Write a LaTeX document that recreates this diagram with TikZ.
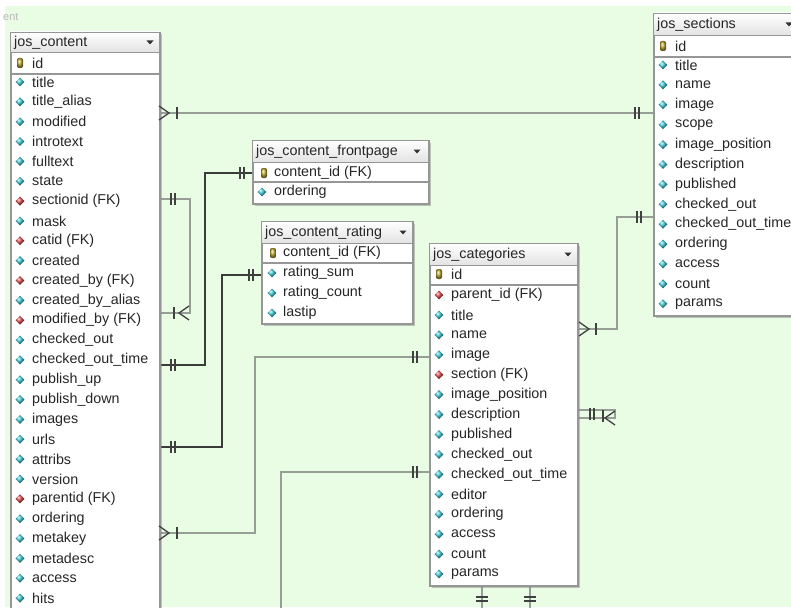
\documentclass[tikz,border=0pt]{standalone}
\usepackage{fontspec}
\setmainfont{Liberation Sans}
\usetikzlibrary{calc, shadows, shapes.geometric}
\definecolor{canvas}{RGB}{233,252,228}
\definecolor{relline}{RGB}{150,158,150}
\definecolor{reldark}{RGB}{58,60,58}
\definecolor{frame}{RGB}{150,150,150}
\definecolor{icocyan}{RGB}{60,196,210}
\definecolor{icored}{RGB}{215,70,70}
\definecolor{icokey}{RGB}{200,180,60}

\begin{document}
\begin{tikzpicture}[x=1pt, y=-1pt,
 tbl/.style={draw=frame, line width=2pt, fill=white, anchor=north west, inner sep=0pt,
   drop shadow={shadow xshift=1.5pt, shadow yshift=-1.5pt, opacity=.45}},
 thead/.style={draw=frame, line width=.8pt, top color=white, bottom color=gray!22},
 tname/.style={anchor=west, inner sep=0pt, font=\fontsize{14.3}{16}\selectfont, text=black!85},
 fld/.style={anchor=west, inner sep=0pt, font=\fontsize{14.3}{16}\selectfont, text=black!85},
 fd/.style={diamond, inner sep=0pt, minimum size=9pt, ball color=icocyan},
 fk/.style={diamond, inner sep=0pt, minimum size=9pt, ball color=icored},
 pk/.style={rectangle, rounded corners=2pt, inner sep=0pt, minimum width=6pt, minimum height=10pt, ball color=icokey},
 sepline/.style={draw=frame, line width=1.6pt},
 rel/.style={draw=relline, line width=1.4pt},
 relbold/.style={draw=reldark, line width=2.6pt},
 mk/.style={draw=black!75, line width=1.3pt},
 dbar/.pic={\draw[mk] (-2,-6) -- (-2,6) (2,-6) -- (2,6);},
 sbar/.pic={\draw[mk] (0,-6) -- (0,6);},
 crow/.pic={\draw[mk] (0,-7) -- (10,0) -- (0,7);},
 dropdown/.pic={\fill[black!80] (-3.5,-1.5) -- (3.5,-1.5) -- (0,2.5) -- cycle;}]
\clip (0,0) rectangle (791,607);
\fill[white] (0,0) rectangle (791,607);
\fill[canvas] (5,6) rectangle (791,607);
\node[anchor=west, inner sep=0pt, text=gray!55, font=\fontsize{11}{12}\selectfont] (pagetag) at (3,17) {ent};

% connectors
\coordinate (a1) at (159,113);
\coordinate (a2) at (653,113);
\draw[rel] (a1) -- (a2);
\coordinate (b1) at (159,199);
\coordinate (b2) at (159,313);
\draw[rel] (b1) -- ++(31,0) |- (b2);
\coordinate (c1) at (159,365);
\coordinate (c2) at (252,173);
\draw[relbold] (c1) -- ++(46,0) |- (c2);
\coordinate (d1) at (159,447);
\coordinate (d2) at (261,275);
\draw[relbold] (d1) -- ++(63,0) |- (d2);
\coordinate (e1) at (159,533);
\coordinate (e2) at (429,357);
\draw[rel] (e1) -- ++(96,0) |- (e2);
\coordinate (f1) at (429,472);
\coordinate (f2) at (281,615);
\draw[rel] (f1) -| (f2);
\coordinate (g1) at (577,329);
\coordinate (g2) at (653,217);
\draw[rel] (g1) -- ++(40,0) |- (g2);
\coordinate (h1) at (577,410);
\coordinate (h2) at (577,418);
\draw[rel] (h1) -- ++(38,0) |- (h2);
\coordinate (i1) at (482,585);
\coordinate (i2) at (482,615);
\draw[rel] (i1) -- (i2);
\coordinate (j1) at (530,585);
\coordinate (j2) at (530,615);
\draw[rel] (j1) -- (j2);

% jos_content
\node[tbl, minimum width=149pt, minimum height=608pt] (content) at (10,32) {};
\path[thead] (10,32) rectangle (159,52);
\node[tname] (content-name) at (14,43) {jos\_content};
\pic at (150,42) {dropdown};
\node[pk] (content-k) at (20,63) {};
\node[fld] (content-id) at (32,63) {id};
\draw[sepline] (10,74) -- (159,74);
\foreach \ic/\txt [count=\i from 0] in {fd/title, fd/title\_alias, fd/modified, fd/introtext,
  fd/fulltext, fd/state, fk/sectionid (FK), fd/mask, fk/catid (FK), fd/created,
  fk/created\_by (FK), fd/created\_by\_alias, fk/modified\_by (FK), fd/checked\_out,
  fd/checked\_out\_time, fd/publish\_up, fd/publish\_down, fd/images, fd/urls, fd/attribs,
  fd/version, fk/parentid (FK), fd/ordering, fd/metakey, fd/metadesc, fd/access, fd/hits}
 {\node[\ic] (content-i\i) at (20,82+19.85*\i) {};
  \node[fld] (content-f\i) at (32,82+19.85*\i) {\txt};}

% jos_sections
\node[tbl, minimum width=145pt, minimum height=302pt] (sections) at (653,13) {};
\path[thead] (653,13) rectangle (798,35);
\node[tname] (sections-name) at (657,25) {jos\_sections};
\pic at (789,24) {dropdown};
\node[pk] (sections-k) at (663,46) {};
\node[fld] (sections-id) at (675,46) {id};
\draw[sepline] (653,57) -- (798,57);
\foreach \ic/\txt [count=\i from 0] in {fd/title, fd/name, fd/image, fd/scope,
  fd/image\_position, fd/description, fd/published, fd/checked\_out,
  fd/checked\_out\_time, fd/ordering, fd/access, fd/count, fd/params}
 {\node[\ic] (sections-i\i) at (663,65+19.9*\i) {};
  \node[fld] (sections-f\i) at (675,65+19.9*\i) {\txt};}

% jos_content_frontpage
\node[tbl, minimum width=176pt, minimum height=63pt] (frontpage) at (252,140) {};
\path[thead] (252,140) rectangle (428,162);
\node[tname] (frontpage-name) at (256,152) {jos\_content\_frontpage};
\pic at (417,151) {dropdown};
\node[pk] (frontpage-k) at (264,173) {};
\node[fld] (frontpage-id) at (274,173) {content\_id (FK)};
\draw[sepline] (252,182) -- (428,182);
\node[fd] (frontpage-i0) at (262,192) {};
\node[fld] (frontpage-f0) at (274,192) {ordering};

% jos_content_rating
\node[tbl, minimum width=151pt, minimum height=102pt] (rating) at (261,221) {};
\path[thead] (261,221) rectangle (412,243);
\node[tname] (rating-name) at (265,233) {jos\_content\_rating};
\pic at (403,232) {dropdown};
\node[pk] (rating-k) at (273,253) {};
\node[fld] (rating-id) at (283,253) {content\_id (FK)};
\draw[sepline] (261,263) -- (412,263);
\foreach \txt [count=\i from 0] in {rating\_sum, rating\_count, lastip}
 {\node[fd] (rating-i\i) at (272,273+20*\i) {};
  \node[fld] (rating-f\i) at (283,273+20*\i) {\txt};}

% jos_categories
\node[tbl, minimum width=148pt, minimum height=342pt] (categories) at (429,243) {};
\path[thead] (429,243) rectangle (577,265);
\node[tname] (categories-name) at (433,255) {jos\_categories};
\pic at (568,254) {dropdown};
\node[pk] (categories-k) at (439,274) {};
\node[fld] (categories-id) at (451,274) {id};
\draw[sepline] (429,285) -- (577,285);
\foreach \ic/\txt [count=\i from 0] in {fk/parent\_id (FK), fd/title, fd/name, fd/image,
  fk/section (FK), fd/image\_position, fd/description, fd/published, fd/checked\_out,
  fd/checked\_out\_time, fd/editor, fd/ordering, fd/access, fd/count, fd/params}
 {\node[\ic] (categories-i\i) at (439,295+19.93*\i) {};
  \node[fld] (categories-f\i) at (451,295+19.93*\i) {\txt};}

% cardinality marks
\pic at (a1) {crow};
\pic at ($(a1)+(18,0)$) {sbar};
\pic at ($(a2)+(-16,0)$) {dbar};
\pic at ($(b1)+(14,0)$) {dbar};
\pic at ($(b2)+(15,0)$) {sbar};
\pic[xscale=-1] at ($(b2)+(30,0)$) {crow};
\pic at ($(c1)+(14,0)$) {dbar};
\pic at ($(c2)+(-10,0)$) {dbar};
\pic at ($(d1)+(14,0)$) {dbar};
\pic at ($(d2)+(-10,0)$) {dbar};
\pic at (e1) {crow};
\pic at ($(e1)+(18,0)$) {sbar};
\pic at ($(e2)+(-14,0)$) {dbar};
\pic at ($(f1)+(-14,0)$) {dbar};
\pic at ($(g1)+(2,0)$) {crow};
\pic at ($(g1)+(19,0)$) {sbar};
\pic at ($(g2)+(-14,0)$) {dbar};
\pic at ($(h1)+(15,4)$) {dbar};
\pic at ($(h2)+(26,-2)$) {sbar};
\pic[xscale=-1] at ($(h2)+(38,0)$) {crow};
\pic[rotate=90] at ($(i1)+(0,14)$) {dbar};
\pic[rotate=90] at ($(j1)+(0,14)$) {dbar};
\end{tikzpicture}
\end{document}
